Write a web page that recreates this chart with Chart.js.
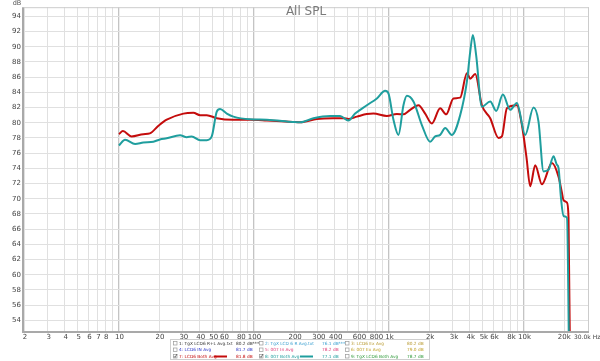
<!DOCTYPE html>
<html>
<head>
<meta charset="utf-8">
<script src="https://cdn.jsdelivr.net/npm/chart.js@4.4.1/dist/chart.umd.min.js"></script>
<style>
html,body{margin:0;padding:0;background:#fff;}
#wrap{position:relative;width:600px;height:361px;}
</style>
</head>
<body>
<div id="wrap"><canvas id="c" width="600" height="361"></canvas></div>
<script>
// ---- data ----
const chartTitle = 'All SPL';
const yUnit = 'dB';

const tealFreq = [10.1, 11.2, 13.3, 15.3, 18.15, 20.3, 22.8, 28.6, 32.1, 34.9, 40.3, 45.1, 49.1, 53.5, 56.6, 63.5, 71, 94.4, 125.6, 196, 222, 278, 370, 438, 505, 566, 691, 820, 944, 999, 1088, 1185, 1290, 1367, 1530, 1766, 2034, 2216, 2413, 2628, 2944, 3394, 3805, 4024, 4215, 4457, 4914, 5662, 6272, 7030, 7962, 8924, 10282, 11848, 12900, 14052, 15302, 16664, 17600, 18150, 18900, 19762, 20942, 22000];
const tealDb   = [77.0, 77.75, 77.2, 77.4, 77.5, 77.8, 77.95, 78.35, 78.1, 78.2, 77.7, 77.7, 78.2, 81.45, 81.8, 81.2, 80.8, 80.45, 80.4, 80.1, 80.05, 80.6, 80.9, 80.9, 80.3, 81.2, 82.3, 83.2, 84.2, 83.85, 80.4, 78.4, 82.3, 83.55, 82.8, 79.7, 77.5, 78.2, 78.4, 79.3, 78.4, 81.0, 85.4, 89.3, 91.55, 88.85, 82.1, 82.8, 81.55, 83.7, 81.7, 82.6, 78.4, 82.0, 80.15, 73.6, 73.8, 75.6, 74.5, 74.05, 70.2, 67.7, 67.5, 40];

const redFreq = [10.1, 10.8, 12.5, 15.3, 17.1, 19.8, 22.8, 30.3, 35.9, 40.3, 45.1, 53.5, 70.7, 94.4, 125.6, 196, 222, 295, 389, 464, 505, 583, 691, 773, 972, 1153, 1290, 1447, 1667, 1868, 2094, 2413, 2673, 3027, 3394, 3805, 4024, 4383, 4914, 5662, 6522, 6910, 7526, 8924, 9722, 10500, 11200, 12196, 13674, 16218, 18150, 19232, 19762, 20942, 21526, 22300];
const redDb   = [78.5, 78.9, 78.2, 78.5, 78.6, 79.6, 80.4, 81.2, 81.3, 81.0, 81.0, 80.6, 80.4, 80.4, 80.3, 80.1, 80.05, 80.5, 80.6, 80.6, 80.5, 80.8, 81.15, 81.2, 80.9, 81.15, 81.1, 81.7, 82.3, 81.2, 79.9, 81.9, 81.1, 83.2, 83.3, 86.5, 85.8, 86.4, 82.3, 80.6, 78.0, 78.2, 81.9, 82.3, 79.7, 75.5, 71.65, 74.4, 71.9, 74.7, 72.9, 70.8, 69.8, 69.5, 67.5, 40];

const yTicks = [54, 56, 58, 60, 62, 64, 66, 68, 70, 72, 74, 76, 78, 80, 82, 84, 86, 88, 90, 92, 94];
const xLabelValues = [2,3,4,5,6,7,8,10,20,30,40,50,60,80,100,200,300,400,600,800,1000,2000,3000,4000,5000,6000,8000,10000,20000,30000];
const xLabelText = ['2','3','4','5','6','7','8','10','20','30','40','50','60','80','100','200','300','400','600','800','1k','2k','3k','4k','5k','6k','8k','10k','20k','30.0k Hz'];

const legendNames  = ['1: TgX LCD6 R+L Avg.txt', '2: TgX LCD 6 R Avg.txt', '3: LCD6 Ex Avg',
                      '4: LCD6 IN Avg', '5: 007 In Avg', '6: 007 Ex Avg',
                      '7: LCD6 Both Avg', '8: 007 Both Avg', '9: TgX LCD6 Both Avg'];
const legendValues = ['80.2 dB***', '76.1 dB***', '80.2 dB',
                      '81.7 dB', '78.2 dB', '79.0 dB',
                      '81.8 dB', '77.1 dB', '78.7 dB'];
const legendColors = ['#333333', '#3a9fd0', '#b89a30',
                      '#2a34c8', '#e0407a', '#c0a028',
                      '#c40c0c', '#1f9e9e', '#2f9a3a'];
const legendChecked = [false, false, false, false, false, false, true, true, false];
const legendLine    = [null, null, null, null, null, null, '#c40c0c', '#1f9e9e', null];

// ---- chart ----
const FONT = "'DejaVu Sans', 'Liberation Sans', sans-serif";
const toPts = (f, d) => f.map((v, i) => ({x: v, y: d[i]}));

const decoPlugin = {
  id: 'deco',
  afterDraw(chart) {
    const ctx = chart.ctx;
    const a = chart.chartArea;
    const xs = chart.scales.x;
    ctx.save();
    // frame
    ctx.strokeStyle = '#cccccc';
    ctx.lineWidth = 1;
    ctx.beginPath();
    ctx.moveTo(a.left, a.top + 0.5); ctx.lineTo(a.right + 0.5, a.top + 0.5);
    ctx.moveTo(a.right + 0.5, a.top); ctx.lineTo(a.right + 0.5, a.bottom);
    ctx.stroke();
    ctx.strokeStyle = '#a9a9a9';
    ctx.lineWidth = 2;
    ctx.beginPath();
    ctx.moveTo(a.left - 1, a.top); ctx.lineTo(a.left - 1, a.bottom + 1);
    ctx.lineTo(a.right + 1, a.bottom + 1);
    ctx.stroke();

    // title
    ctx.fillStyle = '#7a7a7a';
    ctx.font = '12px ' + FONT;
    ctx.textAlign = 'center';
    ctx.textBaseline = 'middle';
    ctx.fillText(chartTitle, (a.left + a.right) / 2, 12);

    // unit
    ctx.fillStyle = '#555';
    ctx.font = '6.5px ' + FONT;
    ctx.textAlign = 'center';
    ctx.fillText(yUnit, 17, 3);

    // x tick labels
    ctx.fillStyle = '#444';
    xLabelValues.forEach((v, i) => {
      const px = xs.getPixelForValue(v);
      if (i === xLabelValues.length - 1) {
        ctx.font = '6px ' + FONT;
        ctx.textAlign = 'left';
        ctx.fillText(xLabelText[i], px - 14, 337);
      } else {
        ctx.font = '7px ' + FONT;
        ctx.textAlign = 'center';
        ctx.fillText(xLabelText[i], px + (i === xLabelValues.length - 2 ? 0 : 1), 337);
      }
    });

    // legend box
    const bx = 170.5, by = 339.5, bw = 259, bh = 20;
    ctx.fillStyle = '#fff';
    ctx.fillRect(bx, by, bw, bh);
    ctx.strokeStyle = '#cfcfcf';
    ctx.lineWidth = 1;
    ctx.strokeRect(bx, by, bw, bh);
    const colX = [173, 259, 345];
    const valX = [236, 322, 407];
    const rowY = [343.5, 350, 356.5];
    ctx.font = '4.3px ' + FONT;
    ctx.textBaseline = 'middle';
    legendNames.forEach((name, i) => {
      const col = i % 3, row = Math.floor(i / 3);
      const cx = colX[col], cy = rowY[row];
      // checkbox
      ctx.strokeStyle = '#999';
      ctx.lineWidth = 0.7;
      ctx.strokeRect(cx + 0.5, cy - 2, 3.5, 3.5);
      if (legendChecked[i]) {
        ctx.strokeStyle = '#444';
        ctx.beginPath();
        ctx.moveTo(cx + 1, cy - 0.3); ctx.lineTo(cx + 2, cy + 1); ctx.lineTo(cx + 4, cy - 2.5);
        ctx.stroke();
      }
      ctx.fillStyle = legendColors[i];
      ctx.textAlign = 'left';
      ctx.fillText(name, cx + 6, cy);
      ctx.fillText(legendValues[i], valX[col], cy);
      if (legendLine[i]) {
        ctx.strokeStyle = legendLine[i];
        ctx.lineWidth = 2;
        ctx.beginPath();
        ctx.moveTo(valX[col] - 22, cy); ctx.lineTo(valX[col] - 9, cy);
        ctx.stroke();
      }
    });
    ctx.restore();
  }
};

function isDecade(v) {
  const l = Math.log10(v);
  return Math.abs(l - Math.round(l)) < 1e-9;
}

new Chart(document.getElementById('c'), {
  type: 'line',
  data: {
    datasets: [
      {
        label: legendNames[7],
        data: toPts(tealFreq, tealDb),
        borderColor: '#1f9e9e',
        borderWidth: 2,
        pointRadius: 0,
        cubicInterpolationMode: 'monotone',
        fill: false
      },
      {
        label: legendNames[6],
        data: toPts(redFreq, redDb),
        borderColor: '#c40c0c',
        borderWidth: 2,
        pointRadius: 0,
        cubicInterpolationMode: 'monotone',
        fill: false
      }
    ]
  },
  options: {
    responsive: false,
    animation: false,
    devicePixelRatio: 1,
    layout: {padding: {left: 0, right: 12, top: 5, bottom: 0}},
    plugins: {legend: {display: false}, tooltip: {enabled: false}, title: {display: false}},
    scales: {
      x: {
        type: 'logarithmic',
        min: 2,
        max: 30000,
        border: {display: false},
        ticks: {display: false},
        grid: {
          drawTicks: false,
          color: (c) => (c.tick && isDecade(c.tick.value)) ? '#c4c4c4' : '#e0e0e0',
          lineWidth: (c) => (c.tick && isDecade(c.tick.value)) ? 1.3 : 1
        },
        afterBuildTicks: (s) => {
          const t = [];
          for (let d = 1; d <= 10000; d *= 10) {
            for (let m = 1; m <= 9; m++) {
              const v = m * d;
              if (v >= 2 && v <= 30000) t.push({value: v});
            }
          }
          s.ticks = t;
        },
        afterFit: (s) => { s.height = 30; }
      },
      y: {
        type: 'linear',
        min: 52.6,
        max: 95.2,
        border: {display: false},
        afterBuildTicks: (s) => { s.ticks = yTicks.map(v => ({value: v})); },
        ticks: {
          font: {size: 7, family: FONT},
          color: '#444',
          padding: 3
        },
        grid: {drawTicks: false, color: '#e0e0e0', lineWidth: 1},
        afterFit: (s) => { s.width = 24; }
      }
    }
  },
  plugins: [decoPlugin]
});
</script>
</body>
</html>
